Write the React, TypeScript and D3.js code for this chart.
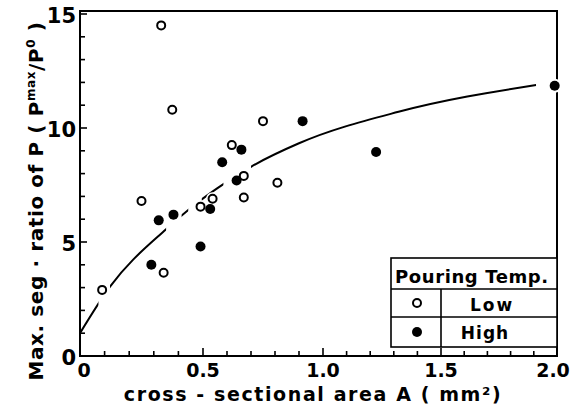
import React from 'react';
import * as d3 from 'd3';

// Low pouring temperature (open circles)
const lowA = [0.09, 0.25, 0.34, 0.33, 0.375, 0.49, 0.54, 0.67, 0.75, 0.62, 0.67, 0.81];
const lowP = [2.9, 6.8, 3.65, 14.5, 10.8, 6.55, 6.9, 6.95, 10.3, 9.25, 7.9, 7.6];
// High pouring temperature (filled circles)
const highA = [0.32, 0.38, 0.29, 0.49, 0.53, 0.58, 0.66, 0.64, 0.915, 1.225, 1.99];
const highP = [5.95, 6.2, 4.0, 4.8, 6.45, 8.5, 9.05, 7.7, 10.3, 8.95, 11.85];
// fitted curve
const fitA = [0, 0.122, 0.35, 0.44, 0.495, 0.585, 0.7, 0.9, 1.32, 1.91];
const fitP = [1.0, 3.04, 5.56, 6.4, 6.87, 7.54, 8.3, 9.33, 10.71, 11.89];
// parts of the curve that are drawn (it is broken around points)
const curveShown = [[0, 0.075], [0.122, 0.35], [0.413, 0.44], [0.495, 0.585], [0.7, 1.91]];

const xTicks = [0, 0.5, 1, 1.5, 2];
const xTickLabels = ['0', '0.5', '1.0', '1.5', '2.0'];
const yTicks = [0, 5, 10, 15];
const yTickLabels = ['0', '5', '10', '15'];
const legendTitle = 'Pouring Temp.';
const legendLabels = ['Low', 'High'];

const W = 579, H = 409;
const x = d3.scaleLinear().domain([0, 0.5, 1, 1.5, 2]).range([80, 203, 323, 441, 557]);
const y = d3.scaleLinear().domain([0, 15]).range([356, 14]);
const yTop = 11;

const FONT = '"DejaVu Sans", sans-serif';

export default function App() {
  const line = d3.line<number>().x((_, i) => x(fitA[i])).y((d) => y(d)).curve(d3.curveMonotoneX);
  const path = line(fitP) || '';
  const xMinor = d3.range(0, 2.0001, 0.1);
  const yMinor = d3.range(0, 15.0001, 1);
  const lx0 = 391, lx1 = 557, ly0 = 258, ly1 = 289, ly2 = 317, ly3 = 347, lxd = 441;
  return (
    <svg width={W} height={H} style={{ position: 'absolute', left: 0, top: 0, background: '#fff' }}>
      <defs>
        <clipPath id="curveClip">
          {curveShown.map(([a, b], i) => (
            <rect key={i} x={x(a)} y={0} width={x(b) - x(a)} height={H} />
          ))}
        </clipPath>
      </defs>
      <rect x={0} y={0} width={W} height={H} fill="#fff" />
      {/* frame */}
      <path d={`M${x(0)},${y(0)} V${yTop} H${x(2)} V${y(0)} Z`} fill="none" stroke="#000" strokeWidth={2} />
      {/* x ticks */}
      {xMinor.map((v, i) => {
        const major = Math.abs(v * 2 - Math.round(v * 2)) < 1e-6;
        return <line key={i} x1={x(v)} x2={x(v)} y1={y(0)} y2={y(0) - (major ? 8 : 5)} stroke="#000" strokeWidth={1.6} />;
      })}
      {/* y ticks */}
      {yMinor.map((v, i) => {
        const major = v % 5 === 0;
        return <line key={i} x1={x(0)} x2={x(0) + (major ? 7 : 5)} y1={y(v)} y2={y(v)} stroke="#000" strokeWidth={1.6} />;
      })}
      {xTicks.map((v, i) => (
        <text key={i} x={x(v) + (i === 0 ? 4 : i === 4 ? -4 : 0)} y={377} textAnchor="middle" fontFamily={FONT} fontSize={19} fontWeight="bold">{xTickLabels[i]}</text>
      ))}
      {yTicks.map((v, i) => (
        <text key={i} x={76} y={y(v) + 9} textAnchor="end" fontFamily={FONT} fontSize={21} fontWeight="bold">{yTickLabels[i]}</text>
      ))}
      {/* curve */}
      <path d={path} fill="none" stroke="#000" strokeWidth={2} clipPath="url(#curveClip)" />
      {/* halos */}
      {lowA.map((a, i) => <circle key={'hl' + i} cx={x(a)} cy={y(lowP[i])} r={6.5} fill="#fff" />)}
      {highA.map((a, i) => <circle key={'hh' + i} cx={x(a)} cy={y(highP[i])} r={7} fill="#fff" />)}
      {lowA.map((a, i) => <circle key={'l' + i} cx={x(a)} cy={y(lowP[i])} r={4} fill="#fff" stroke="#000" strokeWidth={2} />)}
      {highA.map((a, i) => <circle key={'h' + i} cx={x(a)} cy={y(highP[i])} r={5} fill="#000" />)}
      {/* legend */}
      <g stroke="#000" strokeWidth={1.6} fill="none">
        <rect x={lx0} y={ly0} width={lx1 - lx0} height={ly3 - ly0} fill="#fff" />
        <line x1={lx0} x2={lx1} y1={ly1} y2={ly1} />
        <line x1={lx0} x2={lx1} y1={ly2} y2={ly2} />
        <line x1={lxd} x2={lxd} y1={ly1} y2={ly3} />
      </g>
      <text x={395} y={283} fontFamily={FONT} fontSize={18} fontWeight="bold" letterSpacing={0.6}>{legendTitle}</text>
      <circle cx={417} cy={(ly1 + ly2) / 2} r={4} fill="#fff" stroke="#000" strokeWidth={2} />
      <circle cx={417} cy={(ly2 + ly3) / 2} r={5} fill="#000" />
      <text x={492} y={311} textAnchor="middle" fontFamily={FONT} fontSize={17} fontWeight="bold" letterSpacing={2}>{legendLabels[0]}</text>
      <text x={485} y={339} textAnchor="middle" fontFamily={FONT} fontSize={17} fontWeight="bold" letterSpacing={1}>{legendLabels[1]}</text>
      {/* axis titles */}
      <text x={313} y={401} textAnchor="middle" fontFamily={FONT} fontSize={19} fontWeight="bold" letterSpacing={1.6}>cross - sectional area A ( mm²)</text>
      <text transform="translate(43,201) rotate(-90)" textAnchor="middle" fontFamily={FONT} fontSize={20} fontWeight="bold" letterSpacing={0.6}>
        Max. seg · ratio of P ( P<tspan fontSize={12} dy={-8}>max</tspan><tspan dy={8}>/P</tspan><tspan fontSize={12} dy={-8}>0</tspan><tspan dy={8}> )</tspan>
      </text>
    </svg>
  );
}
